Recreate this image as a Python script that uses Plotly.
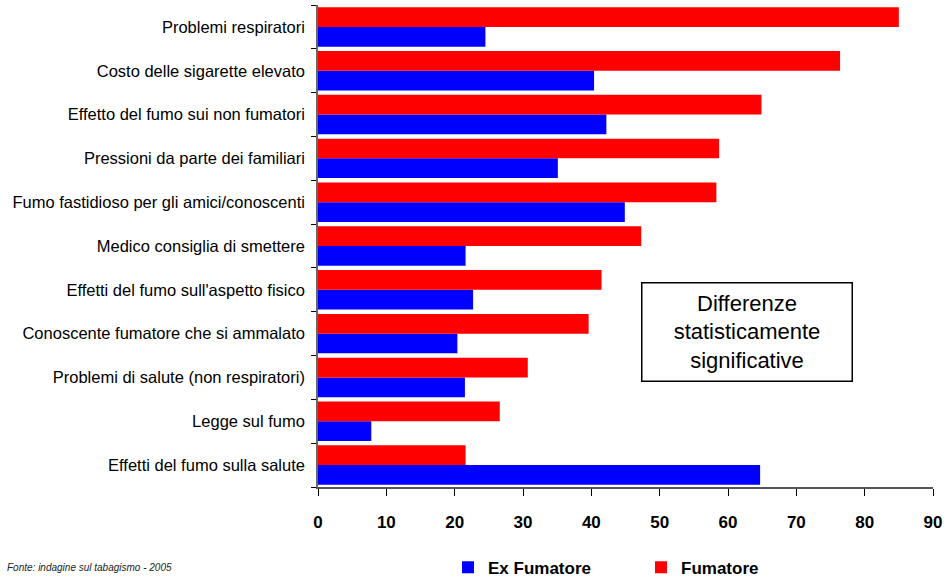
import plotly.graph_objects as go

categories = [
    "Problemi respiratori",
    "Costo delle sigarette elevato",
    "Effetto del fumo sui non fumatori",
    "Pressioni da parte dei familiari",
    "Fumo fastidioso per gli amici/conoscenti",
    "Medico consiglia di smettere",
    "Effetti del fumo sull'aspetto fisico",
    "Conoscente fumatore che si ammalato",
    "Problemi di salute (non respiratori)",
    "Legge sul fumo",
    "Effetti del fumo sulla salute",
]
ex_fumatore = [24.5, 40.4, 42.2, 35.1, 44.9, 21.6, 22.7, 20.4, 21.5, 7.8, 64.7]
fumatore = [85.0, 76.4, 64.9, 58.7, 58.3, 47.3, 41.5, 39.6, 30.7, 26.6, 21.6]
x_ticks = [0, 10, 20, 30, 40, 50, 60, 70, 80, 90]

FONT = "Liberation Sans, Arial, sans-serif"

L, R, T, B = 318, 14, 5, 93
PW, PH = 947 - L - R, 580 - T - B

fig = go.Figure()
fig.add_trace(go.Bar(y=categories, x=ex_fumatore, name="Ex Fumatore", orientation="h",
                     marker=dict(color="#0000FF", line=dict(width=0))))
fig.add_trace(go.Bar(y=categories, x=fumatore, name="Fumatore", orientation="h",
                     marker=dict(color="#FF0000", line=dict(width=0))))

fig.update_layout(
    width=947, height=580,
    margin=dict(l=L, r=R, t=T, b=B, autoexpand=False),
    paper_bgcolor="white", plot_bgcolor="white",
    barmode="group", bargap=0.1, bargroupgap=0,
    font=dict(family=FONT, color="black"),
    legend=dict(orientation="h", x=(448 - L) / PW, xanchor="left",
                y=-0.130, yanchor="top",
                entrywidth=148, entrywidthmode="pixels",
                font=dict(size=17, weight="bold", family=FONT), traceorder="normal"),
    annotations=[dict(
        text="Differenze<br>statisticamente<br>significative",
        xref="paper", yref="paper", x=(746.5 - L) / PW, y=0.3225,
        xanchor="center", yanchor="middle",
        showarrow=False, font=dict(size=22, family=FONT, color="black"),
        bordercolor="black", borderwidth=1.5, bgcolor="white", width=207, height=95,
    ), dict(
        text="<i>Fonte: indagine sul tabagismo - 2005</i>",
        xref="paper", yref="paper", x=(5 - L) / PW, y=-0.167,
        xanchor="left", yanchor="middle",
        showarrow=False, font=dict(size=10, family=FONT, color="#222222"),
    )],
)
fig.update_xaxes(range=[0, 90], tickvals=x_ticks, ticks="outside", ticklen=7, tickcolor="black",
                 showline=True, linecolor="#555555", linewidth=1.5, showgrid=False, zeroline=False,
                 automargin=False,
                 tickfont=dict(size=17, weight="bold", family=FONT), ticklabelstandoff=12)
fig.update_yaxes(categoryorder="array", categoryarray=categories[::-1], tickson="boundaries",
                 ticks="outside", ticklen=5, tickcolor="black", showline=True, linecolor="#666666",
                 linewidth=1.5, showgrid=False, automargin=False,
                 tickfont=dict(size=16.5, family=FONT), ticklabelstandoff=8)

fig.write_html("out.html", config={"displayModeBar": False},
               post_script="document.body.style.margin='0';")
